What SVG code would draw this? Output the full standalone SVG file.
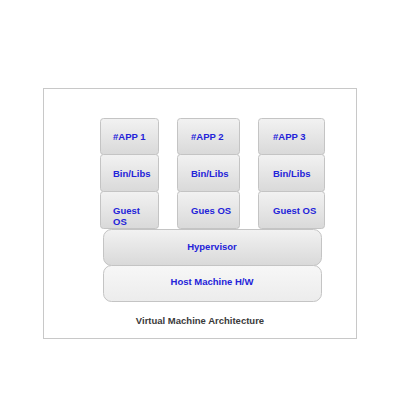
<svg xmlns="http://www.w3.org/2000/svg" width="400" height="400" viewBox="0 0 400 400">
<defs>
<linearGradient id="g" x1="0" y1="0" x2="0" y2="1">
<stop offset="0" stop-color="#f2f2f2"/>
<stop offset="1" stop-color="#d9d9d9"/>
</linearGradient>
<linearGradient id="g2" x1="0" y1="0" x2="0" y2="1">
<stop offset="0" stop-color="#f7f7f7"/>
<stop offset="1" stop-color="#ececec"/>
</linearGradient>
</defs>
<style>
.b{fill:url(#g);stroke:#c4c4c4;stroke-width:1}
.h{fill:url(#g2);stroke:#c4c4c4;stroke-width:1}
.t{font-family:"Liberation Sans",Arial,sans-serif;font-weight:bold;font-size:9.5px;fill:#2323d9}
.c{text-anchor:middle}
.ti{font-family:"Liberation Sans",Arial,sans-serif;font-weight:bold;font-size:9.5px;fill:#3a3a3a;text-anchor:middle}
</style>
<rect x="0" y="0" width="400" height="400" fill="#ffffff"/>
<rect x="43.5" y="88.5" width="313" height="250" fill="#ffffff" stroke="#c8c8c8" stroke-width="1"/>
<g id="app1"><rect class="b" x="100.5" y="118.5" width="58" height="36" rx="3"/><text class="t" x="113" y="139.5">#APP 1</text></g>
<g id="app2"><rect class="b" x="177.5" y="118.5" width="62" height="36" rx="3"/><text class="t" x="191" y="139.5">#APP 2</text></g>
<g id="app3"><rect class="b" x="258.5" y="118.5" width="66" height="36" rx="3"/><text class="t" x="273" y="139.5">#APP 3</text></g>
<g id="bin1"><rect class="b" x="100.5" y="154.5" width="58" height="37" rx="3"/><text class="t" x="113" y="176.5">Bin/Libs</text></g>
<g id="bin2"><rect class="b" x="177.5" y="154.5" width="62" height="37" rx="3"/><text class="t" x="191" y="176.5">Bin/Libs</text></g>
<g id="bin3"><rect class="b" x="258.5" y="154.5" width="66" height="37" rx="3"/><text class="t" x="273" y="176.5">Bin/Libs</text></g>
<g id="os1"><rect class="b" x="100.5" y="191.5" width="58" height="37" rx="3"/><text class="t" x="113" y="213.5">Guest</text><text class="t" x="113" y="224.5">OS</text></g>
<g id="os2"><rect class="b" x="177.5" y="191.5" width="62" height="37" rx="3"/><text class="t" x="191" y="213.5">Gues OS</text></g>
<g id="os3"><rect class="b" x="258.5" y="191.5" width="66" height="37" rx="3"/><text class="t" x="273" y="213.5">Guest OS</text></g>
<g id="hypervisor"><rect class="b" x="103.5" y="229.5" width="218" height="36" rx="8"/><text class="t c" x="212" y="249.5">Hypervisor</text></g>
<g id="host"><rect class="h" x="103.5" y="265.5" width="218" height="36" rx="8"/><text class="t c" x="212" y="284.5">Host Machine H/W</text></g>
<g id="connectors"/>
<text class="ti" x="200" y="323.5">Virtual Machine Architecture</text>
</svg>
